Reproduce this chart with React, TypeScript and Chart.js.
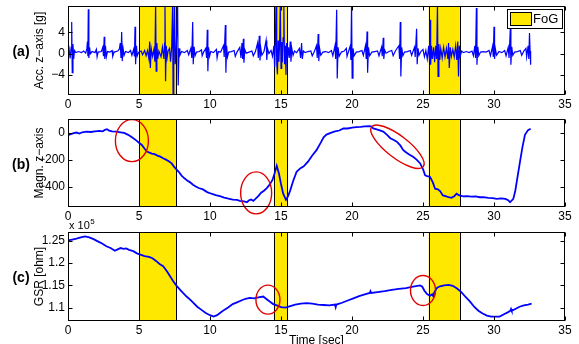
import React, { useEffect, useRef } from 'react';
import { Chart, registerables } from 'chart.js';

Chart.register(...registerables);

// ---------------- data ----------------
const xTicks = [0, 5, 10, 15, 20, 25, 30, 35];

// Freezing-of-Gait episodes [sec]
const fogStart = [5.0, 14.5, 25.4];
const fogEnd = [7.6, 15.45, 27.6];

// (a) accelerometer z-axis [g]
const accTime = [
  0.00, 0.08, 0.15, 0.22, 0.26, 0.30, 0.35, 0.40, 0.46, 0.55,
  0.75, 0.95, 1.10, 1.25, 1.33, 1.37, 1.40, 1.43, 1.47, 1.52,
  1.58, 1.70, 1.90, 2.00, 2.05, 2.12, 2.35, 2.45, 2.50, 2.55,
  2.59, 2.64, 2.70, 2.78, 2.95, 3.10, 3.15, 3.25, 3.50, 3.62,
  3.68, 3.73, 3.78, 3.82, 3.88, 3.95, 4.05, 4.25, 4.40, 4.50,
  4.62, 4.68, 4.72, 4.76, 4.82, 4.88, 4.98, 5.15, 5.25, 5.40,
  5.50, 5.60, 5.70, 5.75, 5.80, 5.86, 5.95, 6.05, 6.12, 6.17,
  6.21, 6.26, 6.32, 6.40, 6.55, 6.65, 6.75, 6.80, 6.83, 6.87,
  6.92, 6.98, 7.05, 7.15, 7.22, 7.30, 7.37, 7.40, 7.45, 7.50,
  7.55, 7.62, 7.72, 7.76, 7.82, 7.88, 8.00, 8.20, 8.40, 8.50,
  8.65, 8.72, 8.78, 8.82, 8.88, 8.95, 9.05, 9.25, 9.40, 9.45,
  9.55, 9.70, 9.76, 9.81, 9.85, 9.90, 9.97, 10.05, 10.25, 10.45,
  10.50, 10.58, 10.75, 10.95, 11.00, 11.08, 11.12, 11.17, 11.23, 11.32,
  11.50, 11.70, 11.78, 11.90, 12.10, 12.18, 12.25, 12.30, 12.35, 12.39,
  12.45, 12.55, 12.75, 12.95, 13.05, 13.20, 13.35, 13.40, 13.47, 13.52,
  13.58, 13.65, 13.80, 13.95, 14.00, 14.05, 14.15, 14.30, 14.40, 14.50,
  14.55, 14.60, 14.65, 14.70, 14.75, 14.80, 14.85, 14.90, 14.95, 15.00,
  15.05, 15.10, 15.15, 15.20, 15.25, 15.30, 15.35, 15.40, 15.45, 15.52,
  15.58, 15.65, 15.70, 15.76, 15.85, 15.95, 16.10, 16.30, 16.38, 16.45,
  16.50, 16.58, 16.70, 16.90, 17.10, 17.20, 17.35, 17.50, 17.55, 17.62,
  17.66, 17.72, 17.80, 17.95, 18.15, 18.35, 18.55, 18.65, 18.80, 18.85,
  18.92, 18.96, 19.02, 19.10, 19.25, 19.45, 19.60, 19.65, 19.75, 19.88,
  19.92, 19.97, 20.01, 20.07, 20.15, 20.30, 20.50, 20.70, 20.80, 20.95,
  21.00, 21.06, 21.10, 21.16, 21.24, 21.40, 21.60, 21.80, 21.90, 22.08,
  22.13, 22.20, 22.24, 22.30, 22.40, 22.60, 22.80, 22.90, 23.05, 23.30,
  23.35, 23.40, 23.44, 23.50, 23.58, 23.70, 23.90, 24.10, 24.20, 24.40,
  24.45, 24.55, 24.59, 24.65, 24.72, 24.85, 25.00, 25.10, 25.20, 25.30,
  25.40, 25.46, 25.50, 25.54, 25.60, 25.66, 25.75, 25.82, 25.90, 25.96,
  26.02, 26.06, 26.12, 26.18, 26.25, 26.35, 26.45, 26.55, 26.65, 26.75,
  26.80, 26.85, 26.92, 27.00, 27.10, 27.20, 27.30, 27.38, 27.45, 27.50,
  27.56, 27.62, 27.72, 27.85, 28.05, 28.25, 28.45, 28.55, 28.65, 28.70,
  28.76, 28.80, 28.86, 28.93, 29.05, 29.25, 29.45, 29.65, 29.75, 29.90,
  29.95, 30.00, 30.04, 30.10, 30.18, 30.35, 30.55, 30.75, 30.85, 31.00,
  31.06, 31.15, 31.19, 31.25, 31.32, 31.45, 31.65, 31.85, 31.95, 32.10,
  32.25, 32.30, 32.40, 32.45, 32.50, 32.54, 32.58,
];
const accValue = [
  -0.6, 0.8, -0.9, 1.2, 6.0, -3.6, 1.8, -1.0, 0.6, 0.2,
  0.4, 0.2, 0.5, 0.1, 1.0, 2.3, -0.5, 8.4, -0.8, 1.2,
  0.0, 0.4, 0.2, 0.8, -0.6, 0.3, 0.4, 1.2, -0.5, 3.2,
  -1.0, 1.5, -0.6, 0.4, 0.3, 0.6, -0.5, 0.3, 0.5, 0.9,
  2.0, -0.8, 4.1, -1.4, 1.0, -0.3, 0.4, 0.2, 0.6, -0.3,
  0.8, -0.5, 5.1, -2.0, 1.5, -0.4, 0.3, 0.5, -0.2, 0.6,
  -0.4, 0.6, -1.0, 2.3, -2.7, 1.0, -0.5, 0.8, -1.5, 9.5,
  -3.3, 2.0, -1.0, 0.5, -0.6, 1.2, -1.0, 2.0, 9.5, -5.2,
  1.5, -0.8, 0.5, 1.0, -1.5, 1.2, 9.5, -8.5, 2.0, 9.5,
  -2.0, 0.8, 9.5, -6.0, 1.0, -0.3, 0.4, 0.2, 0.6, -0.2,
  1.0, -0.8, 6.0, -2.0, 1.3, -0.4, 0.3, 0.4, 0.7, -0.4,
  0.3, 1.0, -0.8, 4.5, -3.3, 1.2, -0.5, 0.4, 0.2, 0.8,
  -0.8, 0.4, 0.3, 1.5, -0.6, 5.4, -3.6, 1.5, -0.6, 0.3,
  0.4, 0.6, -0.5, 0.3, 1.2, -0.8, 2.0, -1.0, 2.8, -1.7,
  0.8, 0.1, 0.3, 0.5, -0.4, 0.4, 2.0, -0.8, 3.4, -1.3,
  1.0, -0.3, 0.4, 2.5, -1.2, 1.0, 0.0, 0.6, -0.5, 1.5,
  -2.5, 2.0, 9.5, -2.0, -3.9, 2.5, -1.5, 1.8, 9.5, -2.8,
  2.2, -1.6, 3.0, 9.5, -2.0, 1.5, -4.0, 2.0, -1.0, 1.2,
  -0.8, 2.3, -1.5, 1.0, -0.3, 0.5, 0.2, 1.0, -0.8, 2.0,
  -1.0, 0.5, 0.2, 0.4, 0.5, -0.4, 0.4, 1.5, -0.8, 3.7,
  -1.4, 1.0, -0.3, 0.3, 0.4, 0.2, 0.6, -0.4, 1.5, -1.0,
  8.3, -4.7, 1.2, -0.5, 0.3, 0.5, 1.0, -0.5, 0.4, 1.5,
  -1.2, 9.5, -4.6, 1.0, -0.4, 0.3, 0.4, 0.6, -0.3, 1.5,
  -1.0, 4.2, -3.6, 1.2, -0.4, 0.3, 0.4, 0.5, -0.4, 1.2,
  -0.5, 3.0, -1.0, 0.7, 0.1, 0.4, 0.6, -0.4, 0.5, 1.5,
  -1.0, 6.0, -4.3, 1.2, -0.4, 0.3, 0.4, 0.6, -0.3, 1.2,
  -0.6, 4.7, -2.0, 1.0, -0.3, 0.4, 0.8, -0.6, 0.6, -1.0,
  1.5, -1.5, 6.4, -2.1, 1.5, -1.0, 1.2, -1.6, 1.5, -1.0,
  9.5, -4.3, 1.8, -1.2, 1.0, -0.8, 1.2, -0.6, 1.0, -1.0,
  2.0, -2.7, 1.2, -0.5, 0.8, -0.6, 1.5, -1.2, 2.3, -4.3,
  1.5, -0.5, 0.5, 0.2, 0.4, 0.2, 0.5, -0.4, 1.5, -0.8,
  8.6, -2.1, 1.3, -0.4, 0.3, 0.4, 0.3, 0.6, -0.4, 1.4,
  -0.6, 5.1, -1.0, 0.9, -0.3, 0.4, 0.2, 0.6, -0.4, 1.2,
  -0.8, 4.8, -2.1, 1.3, -0.3, 0.3, 0.4, 0.6, -0.3, 0.5,
  1.0, -0.6, 1.5, -1.0, 3.9, 0.5, -2.1,
];
const accTicks = [-4, 0, 4];

// (b) magnetometer z-axis
const magTime = [
  0.0, 0.2, 0.4, 0.6, 0.8, 1.0, 1.3, 1.6, 1.9, 2.2,
  2.45, 2.6, 2.75, 2.9, 3.1, 3.4, 3.7, 3.95, 4.2, 4.4,
  4.6, 4.8, 5.0, 5.2, 5.4, 5.55, 5.7, 5.9, 6.1, 6.3,
  6.5, 6.7, 6.9, 7.1, 7.3, 7.45, 7.6, 7.8, 8.0, 8.2,
  8.4, 8.6, 8.8, 9.0, 9.2, 9.5, 9.8, 10.1, 10.4, 10.7,
  11.0, 11.3, 11.6, 11.9, 12.1, 12.4, 12.6, 12.75, 12.9, 13.05,
  13.2, 13.4, 13.6, 13.8, 14.0, 14.2, 14.4, 14.55, 14.7, 14.85,
  15.0, 15.15, 15.35, 15.5, 15.65, 15.85, 16.1, 16.35, 16.6, 16.9,
  17.2, 17.5, 17.8, 18.0, 18.2, 18.5, 18.8, 19.1, 19.4, 19.7,
  20.0, 20.3, 20.6, 20.9, 21.2, 21.35, 21.5, 21.8, 22.2, 22.45,
  22.7, 22.95, 23.15, 23.4, 23.6, 23.75, 24.0, 24.3, 24.55, 24.8,
  25.0, 25.15, 25.3, 25.5, 25.7, 25.85, 26.05, 26.2, 26.4, 26.6,
  26.8, 27.0, 27.2, 27.37, 27.55, 27.84, 28.1, 28.4, 28.7, 29.0,
  29.25, 29.6, 29.9, 30.2, 30.5, 30.8, 31.0, 31.13, 31.36, 31.5,
  31.7, 31.85, 32.0, 32.18, 32.4, 32.58,
];
const magValue = [
  -20, -12, -5, 0, -8, 2, 7, 4, 8, 12,
  9, 20, 25, 14, 8, 6, 2, -3, -15, -28,
  -42, -58, -75, -92, -120, -140, -147, -155, -160, -170,
  -178, -190, -200, -212, -228, -250, -268, -290, -318, -338,
  -355, -368, -385, -398, -410, -420, -440, -452, -462, -470,
  -480, -488, -495, -498, -505, -508, -515, -500, -495, -505,
  -490, -470, -445, -430, -410, -385, -350, -300, -245, -300,
  -380, -450, -497, -470, -427, -360, -290, -265, -250, -215,
  -170, -130, -75, -35, -15, -2, 8, 15, 30, 30,
  37, 40, 42, 45, 47, 45, 30, 22, 7, -15,
  -42, -55, -67, -95, -128, -142, -160, -179, -200, -228,
  -270, -316, -322, -328, -370, -415, -420, -432, -465, -470,
  -478, -482, -470, -452, -465, -472, -470, -474, -472, -478,
  -477, -482, -485, -490, -486, -490, -500, -515, -490, -430,
  -300, -204, -110, -17, 18, 28,
];
const magTicks = [-400, -200, 0];

// (c) galvanic skin response [ohm], in units of 10^5
const gsrTime = [
  0.0, 0.3, 0.6, 0.9, 1.2, 1.5, 1.8, 2.1, 2.4, 2.7,
  3.0, 3.3, 3.5, 3.7, 3.9, 4.1, 4.3, 4.6, 4.85, 5.1,
  5.4, 5.7, 5.95, 6.2, 6.45, 6.7, 6.85, 7.0, 7.2, 7.4,
  7.65, 7.9, 8.1, 8.35, 8.6, 8.85, 9.1, 9.4, 9.7, 10.0,
  10.25, 10.5, 10.75, 11.0, 11.3, 11.6, 11.9, 12.2, 12.5, 12.8,
  13.1, 13.4, 13.75, 13.95, 14.2, 14.45, 14.7, 15.0, 15.3, 15.6,
  16.0, 16.4, 16.8, 17.2, 17.6, 18.0, 18.4, 18.8, 18.85, 18.9,
  19.3, 19.7, 20.1, 20.5, 20.9, 21.25, 21.3, 21.35, 21.8, 22.3,
  22.8, 23.3, 23.8, 24.3, 24.8, 24.95, 25.1, 25.3, 25.5, 25.65,
  25.72, 25.8, 26.0, 26.2, 26.5, 26.8, 27.1, 27.4, 27.7, 28.0,
  28.3, 28.6, 28.9, 29.2, 29.5, 29.8, 30.1, 30.4, 30.7, 31.0,
  31.15, 31.2, 31.25, 31.5, 31.8, 32.1, 32.4, 32.65,
];
const gsrValue = [
  1.251, 1.253, 1.255, 1.258, 1.260, 1.258, 1.254, 1.249, 1.244, 1.238,
  1.234, 1.228, 1.231, 1.234, 1.232, 1.233, 1.230, 1.227, 1.222, 1.219,
  1.216, 1.214, 1.211, 1.205, 1.198, 1.193, 1.187, 1.180, 1.170, 1.160,
  1.149, 1.140, 1.133, 1.125, 1.118, 1.110, 1.102, 1.095, 1.088, 1.083,
  1.080, 1.083, 1.089, 1.095, 1.101, 1.108, 1.112, 1.116, 1.120, 1.122,
  1.121, 1.123, 1.125, 1.120, 1.114, 1.108, 1.105, 1.101, 1.100, 1.103,
  1.107, 1.109, 1.110, 1.109, 1.107, 1.106, 1.105, 1.107, 1.101, 1.107,
  1.111, 1.116, 1.121, 1.126, 1.130, 1.133, 1.137, 1.133, 1.135, 1.137,
  1.140, 1.142, 1.144, 1.147, 1.150, 1.147, 1.138, 1.130, 1.127, 1.130,
  1.126, 1.135, 1.145, 1.148, 1.150, 1.151, 1.149, 1.143, 1.135, 1.124,
  1.114, 1.102, 1.093, 1.087, 1.082, 1.080, 1.080, 1.080, 1.085, 1.090,
  1.093, 1.097, 1.093, 1.097, 1.102, 1.105, 1.107, 1.109,
];
const gsrTicks = [1.1, 1.15, 1.2, 1.25];
const gsrTickLabels = ['1.1', '1.15', '1.2', '1.25'];

// ---------------- annotation (red circles) ----------------
type Mark = { x: number; y: number; rx: number; ry: number; angle: number };
const magMarks: Mark[] = [
  { x: 4.5, y: -60, rx: 16.5, ry: 21, angle: 0 },
  { x: 13.25, y: -446, rx: 15.5, ry: 21, angle: 0 },
  { x: 23.2, y: -105, rx: 32.6, ry: 11, angle: 37.6 },
];
const gsrMarks: Mark[] = [
  { x: 14.08, y: 1.118, rx: 12, ry: 14.5, angle: 0 },
  { x: 25.0, y: 1.1385, rx: 12.5, ry: 15, angle: 0 },
];

// ---------------- layout / style ----------------
const W = 579;
const H = 344;
const PLOT_LEFT = 68;
const PLOT_RIGHT = 565;
const XAXIS_H = 20;
const FONT = '"Liberation Sans", Arial, Helvetica, sans-serif';
const FOG_COLOR = '#FFE800';
const LINE_COLOR = '#0000FF';
const MARK_COLOR = '#E00000';

const fmt = (v: number) => (v < 0 ? '\u2212' + Math.abs(v) : String(v));

interface PanelSpec {
  time: number[];
  value: number[];
  yMin: number;
  yMax: number;
  yTicks: number[];
  yLabel: (v: number) => string;
  lineWidth: number;
  top: number;
  bottom: number;
  tag: string;
  yTitle: string;
  marks: Mark[];
  legend?: boolean;
  exponent?: boolean;
  xTitle?: boolean;
}

function panelPlugin(spec: PanelSpec) {
  return {
    id: 'matlabPanel' + spec.tag,
    beforeDatasetsDraw(chart: any) {
      const { ctx, chartArea: a } = chart;
      const xs = chart.scales.x;
      ctx.save();
      ctx.beginPath();
      ctx.rect(a.left, a.top, a.right - a.left, a.bottom - a.top);
      ctx.clip();
      fogStart.forEach((s, i) => {
        const x0 = xs.getPixelForValue(s);
        const x1 = xs.getPixelForValue(fogEnd[i]);
        ctx.fillStyle = FOG_COLOR;
        ctx.fillRect(x0, a.top, x1 - x0, a.bottom - a.top);
        ctx.strokeStyle = '#000';
        ctx.lineWidth = 1;
        ctx.beginPath();
        ctx.moveTo(Math.round(x0) + 0.5, a.top);
        ctx.lineTo(Math.round(x0) + 0.5, a.bottom);
        ctx.moveTo(Math.round(x1) + 0.5, a.top);
        ctx.lineTo(Math.round(x1) + 0.5, a.bottom);
        ctx.stroke();
      });
      ctx.restore();
    },
    afterDatasetsDraw(chart: any) {
      const { ctx, chartArea: a } = chart;
      const xs = chart.scales.x;
      const ys = chart.scales.y;
      ctx.save();
      // red ellipses
      ctx.strokeStyle = MARK_COLOR;
      ctx.lineWidth = 1.4;
      spec.marks.forEach((m) => {
        const cx = xs.getPixelForValue(m.x);
        const cy = ys.getPixelForValue(m.y);
        ctx.beginPath();
        ctx.ellipse(cx, cy, m.rx, m.ry, (m.angle * Math.PI) / 180, 0, Math.PI * 2);
        ctx.stroke();
      });
      // frame
      ctx.strokeStyle = '#000';
      ctx.lineWidth = 1;
      const L = a.left + 0.5;
      const R = a.right - 0.5;
      const T = a.top + 0.5;
      const B = a.bottom - 0.5;
      ctx.strokeRect(L, T, R - L, B - T);
      // inward ticks
      const tl = 4;
      ctx.beginPath();
      xTicks.forEach((v) => {
        const px = Math.round(xs.getPixelForValue(v)) + 0.5;
        ctx.moveTo(px, B);
        ctx.lineTo(px, B - tl);
        ctx.moveTo(px, T);
        ctx.lineTo(px, T + tl);
      });
      spec.yTicks.forEach((v) => {
        const py = Math.round(ys.getPixelForValue(v)) + 0.5;
        ctx.moveTo(L, py);
        ctx.lineTo(L + tl, py);
        ctx.moveTo(R, py);
        ctx.lineTo(R - tl, py);
      });
      ctx.stroke();

      // panel tag
      ctx.fillStyle = '#000';
      const midY = (a.top + a.bottom) / 2;
      ctx.font = `bold 14px ${FONT}`;
      ctx.textAlign = 'center';
      ctx.textBaseline = 'middle';
      ctx.fillText(spec.tag, 21, midY + 2);
      // y title
      ctx.save();
      ctx.translate(40, midY);
      ctx.rotate(-Math.PI / 2);
      ctx.font = `12px ${FONT}`;
      ctx.textAlign = 'center';
      ctx.textBaseline = 'middle';
      ctx.fillText(spec.yTitle, 0, 0);
      ctx.restore();

      if (spec.legend) {
        const bw = 55;
        const bh = 19;
        const bx = a.right - 3 - bw;
        const by = a.top + 3;
        ctx.fillStyle = '#fff';
        ctx.fillRect(bx, by, bw, bh);
        ctx.strokeStyle = '#000';
        ctx.lineWidth = 1;
        ctx.strokeRect(Math.round(bx) + 0.5, Math.round(by) + 0.5, bw, bh);
        ctx.fillStyle = FOG_COLOR;
        ctx.fillRect(bx + 3, by + 3, 21, 13);
        ctx.strokeRect(Math.round(bx + 3) + 0.5, Math.round(by + 3) + 0.5, 21, 13);
        ctx.fillStyle = '#000';
        ctx.font = `13px ${FONT}`;
        ctx.textAlign = 'left';
        ctx.textBaseline = 'middle';
        ctx.fillText('FoG', bx + 26, by + bh / 2 + 1);
      }
      if (spec.exponent) {
        ctx.fillStyle = '#000';
        ctx.textAlign = 'left';
        ctx.textBaseline = 'alphabetic';
        ctx.font = `11px ${FONT}`;
        ctx.fillText('x 10', a.left + 1, a.top - 3);
        const w = ctx.measureText('x 10').width;
        ctx.font = `8px ${FONT}`;
        ctx.fillText('5', a.left + 1 + w + 0.5, a.top - 8);
      }
      if (spec.xTitle) {
        ctx.fillStyle = '#000';
        ctx.font = `12px ${FONT}`;
        ctx.textAlign = 'center';
        ctx.textBaseline = 'middle';
        ctx.fillText('Time [sec]', (a.left + a.right) / 2, 341);
      }
      ctx.restore();
    },
  };
}

function makeConfig(spec: PanelSpec): any {
  const points = spec.time.map((t, i) => ({ x: t, y: spec.value[i] }));
  return {
    type: 'line',
    data: {
      datasets: [
        {
          data: points,
          borderColor: LINE_COLOR,
          borderWidth: spec.lineWidth,
          pointRadius: 0,
          tension: 0,
          fill: false,
        },
      ],
    },
    options: {
      responsive: false,
      animation: false,
      events: [],
      layout: {
        padding: { left: 0, right: W - PLOT_RIGHT, top: spec.top, bottom: H - spec.bottom - XAXIS_H },
      },
      plugins: {
        legend: { display: false },
        tooltip: { enabled: false },
        title: { display: false },
      },
      scales: {
        x: {
          type: 'linear',
          min: 0,
          max: 35,
          grid: { display: false, drawTicks: false },
          border: { display: false },
          ticks: {
            padding: 2,
            color: '#000',
            font: { family: FONT, size: 12 },
            autoSkip: false,
            maxRotation: 0,
            callback: (v: number) => String(v),
          },
          afterBuildTicks: (s: any) => {
            s.ticks = xTicks.map((v) => ({ value: v }));
          },
          afterFit: (s: any) => {
            s.height = XAXIS_H;
            s.paddingLeft = 0;
            s.paddingRight = 0;
          },
        },
        y: {
          type: 'linear',
          min: spec.yMin,
          max: spec.yMax,
          grid: { display: false, drawTicks: false },
          border: { display: false },
          ticks: {
            padding: 3,
            color: '#000',
            font: { family: FONT, size: 12 },
            autoSkip: false,
            callback: (v: number) => spec.yLabel(v),
          },
          afterBuildTicks: (s: any) => {
            s.ticks = spec.yTicks.map((v) => ({ value: v }));
          },
          afterFit: (s: any) => {
            s.width = PLOT_LEFT;
            s.paddingTop = 0;
            s.paddingBottom = 0;
          },
        },
      },
    },
    plugins: [panelPlugin(spec)],
  };
}

const panels: PanelSpec[] = [
  {
    time: accTime,
    value: accValue,
    yMin: -7.8,
    yMax: 9,
    yTicks: accTicks,
    yLabel: fmt,
    lineWidth: 1.2,
    top: 6,
    bottom: 95,
    tag: '(a)',
    yTitle: 'Acc. z\u2212axis [g]',
    marks: [],
    legend: true,
  },
  {
    time: magTime,
    value: magValue,
    yMin: -550,
    yMax: 100,
    yTicks: magTicks,
    yLabel: fmt,
    lineWidth: 1.8,
    top: 119,
    bottom: 207,
    tag: '(b)',
    yTitle: 'Magn. z\u2212axis',
    marks: magMarks,
  },
  {
    time: gsrTime,
    value: gsrValue,
    yMin: 1.07,
    yMax: 1.27,
    yTicks: gsrTicks,
    yLabel: (v: number) => {
      const i = gsrTicks.findIndex((t) => Math.abs(t - v) < 1e-6);
      return i >= 0 ? gsrTickLabels[i] : String(v);
    },
    lineWidth: 1.8,
    top: 232,
    bottom: 321,
    tag: '(c)',
    yTitle: 'GSR [ohm]',
    marks: gsrMarks,
    exponent: true,
    xTitle: true,
  },
];

function Panel({ spec }: { spec: PanelSpec }) {
  const ref = useRef<HTMLCanvasElement | null>(null);
  useEffect(() => {
    if (!ref.current) return;
    const chart = new Chart(ref.current, makeConfig(spec));
    return () => chart.destroy();
  }, [spec]);
  return (
    <canvas
      ref={ref}
      width={W}
      height={H}
      style={{ position: 'absolute', left: 0, top: 0, width: W, height: H }}
    />
  );
}

export default function App() {
  useEffect(() => {
    document.body.style.margin = '0';
    document.body.style.background = '#fff';
  }, []);
  return (
    <div style={{ position: 'relative', width: W, height: H, overflow: 'hidden', background: '#fff' }}>
      {panels.map((p) => (
        <Panel key={p.tag} spec={p} />
      ))}
    </div>
  );
}
